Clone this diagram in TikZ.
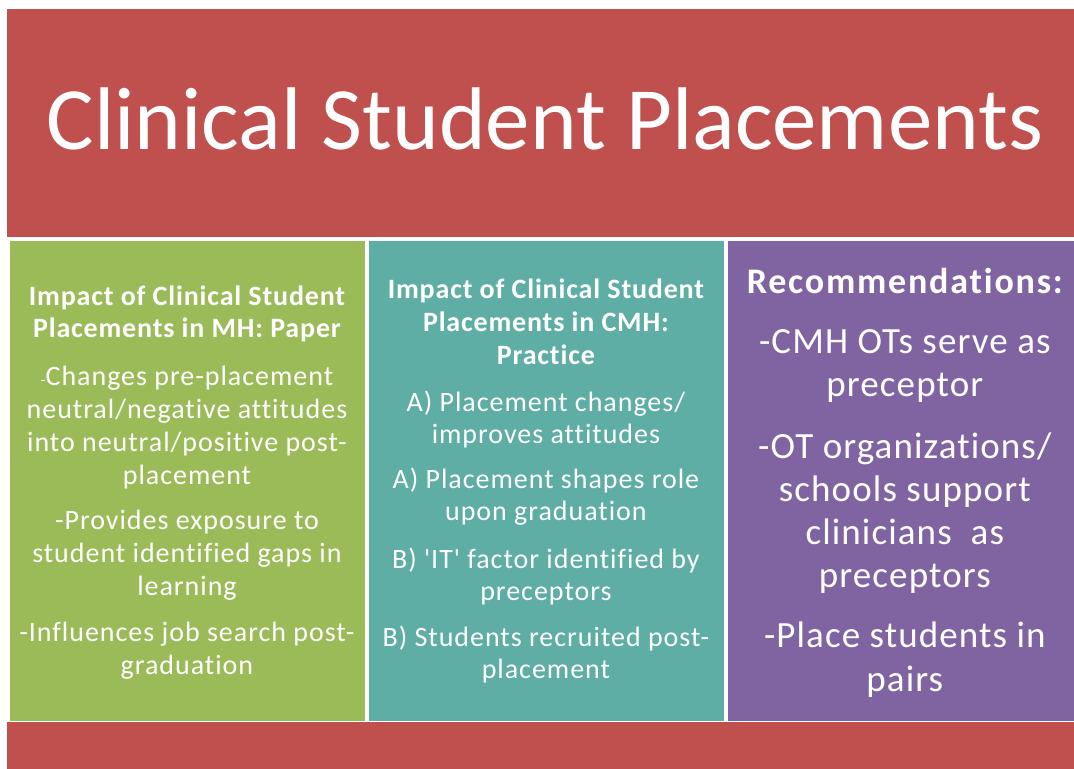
\documentclass[tikz,border=0pt]{standalone}
\usepackage{fontspec}
\setmainfont{Carlito}
\usepackage{tikz}

\definecolor{bandred}{HTML}{C0504D}
\definecolor{papergreen}{HTML}{9BBB59}
\definecolor{practiceteal}{HTML}{5FAEA6}
\definecolor{recpurple}{HTML}{8064A2}

\newfontfamily\bodyfont[LetterSpace=3.5,Ligatures=NoCommon]{Carlito}
\newfontfamily\headfont[LetterSpace=3,Ligatures=NoCommon]{Carlito}
\newfontfamily\recfont[LetterSpace=3,Ligatures=NoCommon]{Carlito}
\newfontfamily\recheadfont[LetterSpace=5,Ligatures=NoCommon]{Carlito}

\begin{document}
\begin{tikzpicture}[x=1pt,y=1pt,
  txt/.style={text=white, align=center, inner sep=0pt, anchor=base}]
\draw[draw=none] (0,0) rectangle (1074,768);
\filldraw[color=bandred] (7,532) rectangle (1074,759);
\filldraw[color=papergreen] (10,48) rectangle (364,527);
\filldraw[color=practiceteal] (369,48) rectangle (723,527);
\filldraw[color=recpurple] (728,48) rectangle (1074,527);
\filldraw[color=bandred] (7,0) rectangle (1074,46);
% title
\node[txt, font=\fontsize{89}{110}\selectfont] (title) at (545,618) {Clinical Student Placements};
% left column
\node[txt, font=\headfont\bfseries\fontsize{28}{32}\selectfont] (paperhead) at (187,430) {Impact of Clinical Student\\Placements in MH: Paper};
\node[txt, font=\bodyfont\fontsize{28}{33}\selectfont] (paperone) at (187,283) {{\fontsize{16}{16}\selectfont -}Changes pre-placement\\neutral/negative attitudes\\into neutral/positive post-\\placement};
\node[txt, font=\bodyfont\fontsize{28}{33}\selectfont] (papertwo) at (187,172) {-Provides exposure to\\student identified gaps in\\learning};
\node[txt, font=\bodyfont\fontsize{28}{33}\selectfont] (paperthree) at (187,93) {-Influences job search post-\\graduation};
% middle column
\node[txt, font=\headfont\bfseries\fontsize{28}{33}\selectfont] (practicehead) at (546,403) {Impact of Clinical Student\\Placements in CMH:\\Practice};
\node[txt, font=\bodyfont\fontsize{28}{32}\selectfont] (practiceone) at (546,324) {A) Placement changes/\\improves attitudes};
\node[txt, font=\bodyfont\fontsize{28}{32}\selectfont] (practicetwo) at (546,247) {A) Placement shapes role\\upon graduation};
\node[txt, font=\bodyfont\fontsize{28}{32}\selectfont] (practicethree) at (546,167) {B) 'IT' factor identified by\\preceptors};
\node[txt, font=\bodyfont\fontsize{28}{32}\selectfont] (practicefour) at (546,89) {B) Students recruited post-\\placement};
% right column
\node[txt, font=\recheadfont\bfseries\fontsize{36}{40}\selectfont] (rechead) at (905,474) {Recommendations:};
\node[txt, font=\recfont\fontsize{37}{43}\selectfont] (recone) at (905,371) {-CMH OTs serve as\\preceptor};
\node[txt, font=\recfont\fontsize{37}{43}\selectfont] (rectwo) at (905,180) {-OT organizations/\\schools support\\clinicians~~as\\preceptors};
\node[txt, font=\recfont\fontsize{37}{44}\selectfont] (recthree) at (905,76) {-Place students in\\pairs};
\end{tikzpicture}
\end{document}
